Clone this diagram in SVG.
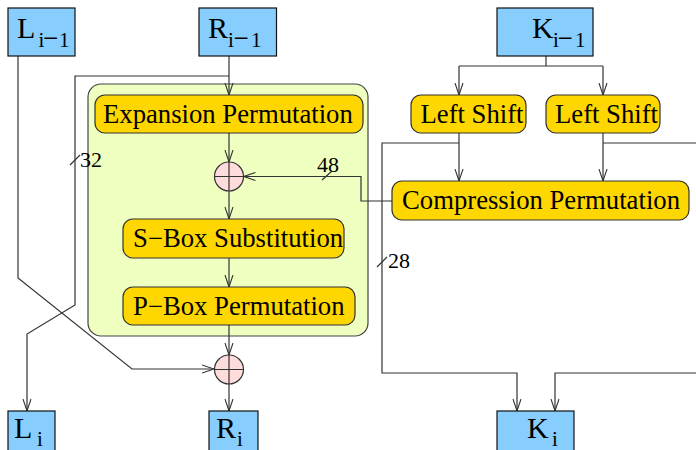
<svg xmlns="http://www.w3.org/2000/svg" width="696" height="450" viewBox="0 0 696 450">
<defs>
<style>
.blue{fill:#87CEFF;stroke:#111;stroke-width:1.2}
.gold{fill:#FFD700;stroke:#333;stroke-width:1.2}
.xor{fill:#FFDCDC;stroke:#333;stroke-width:1.2}
.grp{fill:#EEFFC0;stroke:#444;stroke-width:1.2}
.lbl{font-family:"Liberation Serif","Times New Roman",serif;font-size:26.7px;fill:#000}
.big{font-family:"Liberation Serif","Times New Roman",serif;font-size:30px;fill:#000}
.sub{font-family:"Liberation Serif","Times New Roman",serif;font-size:21px;fill:#000}
.mn{font-size:27px}
.num{font-family:"Liberation Serif","Times New Roman",serif;font-size:22px;fill:#000}
.ln{fill:none;stroke:#333;stroke-width:1.2}
.arr{fill:none;stroke:#333;stroke-width:1.2;marker-end:url(#ah)}
</style>
<marker id="ah" viewBox="0 0 12 10" refX="12" refY="5" markerWidth="12" markerHeight="10" markerUnits="userSpaceOnUse" orient="auto">
<path d="M0,1 L12,5 L0,9" fill="none" stroke="#333" stroke-width="1.1"/>
</marker>
</defs>
<rect width="696" height="450" fill="#fff"/>

<g id="round-function">
<rect class="grp" x="88" y="84" width="280" height="252" rx="13"/>
</g>

<g id="connectors">
<path class="arr" d="M229,56 V95"/>
<path class="arr" d="M229,76 H75 V305 L27,334 V411"/>
<path class="arr" d="M18,56 V278 L132,369 H214"/>
<path class="arr" d="M229,133 V162"/>
<path class="arr" d="M229,191 V219"/>
<path class="arr" d="M229,258 V287"/>
<path class="arr" d="M229,325 V355"/>
<path class="arr" d="M229,384 V411"/>
<path class="arr" d="M392,201 H361 V176.5 H243.5"/>
<path class="ln" d="M546,56 V66 M459,66 H603"/>
<path class="arr" d="M459,66 V95"/>
<path class="arr" d="M603,66 V95"/>
<path class="arr" d="M459,133 V181"/>
<path class="arr" d="M603,133 V181"/>
<path class="arr" d="M459,143 H382 V373 H517 V411"/>
<path class="ln" d="M603,143 H698"/>
<path class="arr" d="M698,373 H555 V411"/>
<path class="ln" d="M70,165 L80,155 M322,180 L332,171 M377,267 L387,257"/>
<text class="num" x="80" y="167">32</text>
<text class="num" x="317" y="171.5">48</text>
<text class="num" x="388" y="268">28</text>
</g>

<g id="L_prev">
<rect class="blue" x="8" y="8" width="67" height="48"/>
<text class="big" x="17" y="38">L</text>
<text class="sub" y="47"><tspan x="38.5">i</tspan><tspan class="mn" x="43">−</tspan><tspan x="59">1</tspan></text>
</g>
<g id="R_prev">
<rect class="blue" x="199" y="8" width="77.5" height="48"/>
<text class="big" x="208" y="38">R</text>
<text class="sub" y="47"><tspan x="228">i</tspan><tspan class="mn" x="233.5">−</tspan><tspan x="251">1</tspan></text>
</g>
<g id="K_prev">
<rect class="blue" x="497" y="8" width="96" height="48"/>
<text class="big" x="532" y="38">K</text>
<text class="sub" y="47"><tspan x="553">i</tspan><tspan class="mn" x="557.5">−</tspan><tspan x="575">1</tspan></text>
</g>

<g id="expansion">
<rect class="gold" x="95" y="95" width="268" height="38" rx="10"/>
<text class="lbl" x="103" y="123">Expansion Permutation</text>
</g>
<g id="xor1">
<circle class="xor" cx="229" cy="176.5" r="14.5"/>
<path class="ln" d="M214.5,176.5 H243.5 M229,162 V191"/>
</g>
<g id="sbox">
<rect class="gold" x="123" y="219" width="221" height="39" rx="10"/>
<text class="lbl" x="133" y="247">S−Box Substitution</text>
</g>
<g id="pbox">
<rect class="gold" x="123" y="287" width="232" height="38" rx="10"/>
<text class="lbl" x="133" y="315">P−Box Permutation</text>
</g>
<g id="xor2">
<circle class="xor" cx="229" cy="369.5" r="14.5"/>
<path class="ln" d="M214.5,369.5 H243.5 M229,355 V384"/>
</g>

<g id="leftshift1">
<rect class="gold" x="411" y="95" width="115" height="38" rx="10"/>
<text class="lbl" x="420.5" y="123">Left Shift</text>
</g>
<g id="leftshift2">
<rect class="gold" x="546" y="95" width="114" height="38" rx="10"/>
<text class="lbl" x="555" y="123">Left Shift</text>
</g>
<g id="compression">
<rect class="gold" x="392" y="181" width="297" height="39" rx="10"/>
<text class="lbl" x="402" y="209">Compression Permutation</text>
</g>

<g id="L_i">
<rect class="blue" x="8" y="411" width="47" height="44"/>
<text class="big" x="14" y="438">L</text>
<text class="sub" x="37" y="446">i</text>
</g>
<g id="R_i">
<rect class="blue" x="209" y="411" width="49" height="44"/>
<text class="big" x="216" y="438">R</text>
<text class="sub" x="237" y="446">i</text>
</g>
<g id="K_i">
<rect class="blue" x="497" y="411" width="77" height="44"/>
<text class="big" x="527" y="438">K</text>
<text class="sub" x="552" y="446">i</text>
</g>
</svg>
